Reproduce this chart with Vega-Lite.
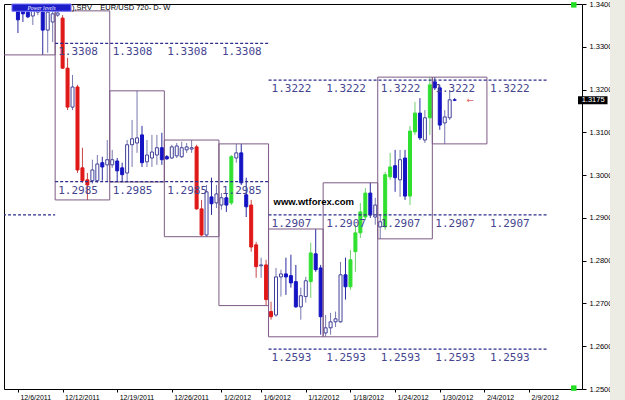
{
  "$schema": "https://vega.github.io/schema/vega-lite/v6.json",
  "width": 578,
  "height": 385,
  "autosize": "none",
  "padding": {"left": 4, "top": 4, "right": 43, "bottom": 11},
  "background": "white",
  "config": {"view": {"stroke": "black", "strokeWidth": 1}},
  "datasets": {
    "candles": [
      {"i":0,"o":1.3386,"c":1.3363,"h":1.3400,"l":1.3332,"k":"bear"},
      {"i":1,"o":1.3391,"c":1.3377,"h":1.3400,"l":1.3358,"k":"bear"},
      {"i":2,"o":1.3381,"c":1.3370,"h":1.3395,"l":1.3367,"k":"bear"},
      {"i":3,"o":1.3372,"c":1.3386,"h":1.3398,"l":1.3351,"k":"bull"},
      {"i":4,"o":1.3381,"c":1.3391,"h":1.3400,"l":1.3374,"k":"bull"},
      {"i":5,"o":1.3381,"c":1.3339,"h":1.3391,"l":1.3281,"k":"bear"},
      {"i":6,"o":1.3339,"c":1.3381,"h":1.3391,"l":1.3286,"k":"bull"},
      {"i":7,"o":1.3358,"c":1.3377,"h":1.3386,"l":1.3311,"k":"bull"},
      {"i":8,"o":1.3374,"c":1.3379,"h":1.3384,"l":1.3370,"k":"bull"},
      {"i":9,"o":1.3367,"c":1.3250,"h":1.3374,"l":1.3248,"k":"bear-strong"},
      {"i":10,"o":1.3250,"c":1.3159,"h":1.3274,"l":1.3152,"k":"bear-strong"},
      {"i":11,"o":1.3159,"c":1.3206,"h":1.3234,"l":1.3152,"k":"bull"},
      {"i":12,"o":1.3206,"c":1.3012,"h":1.3211,"l":1.3005,"k":"bear-strong"},
      {"i":13,"o":1.3017,"c":1.2987,"h":1.3064,"l":1.2982,"k":"bear-strong"},
      {"i":14,"o":1.2989,"c":1.2977,"h":1.3005,"l":1.2942,"k":"bear-strong"},
      {"i":15,"o":1.2987,"c":1.3012,"h":1.3036,"l":1.2980,"k":"bull"},
      {"i":16,"o":1.2987,"c":1.3026,"h":1.3047,"l":1.2982,"k":"bull"},
      {"i":17,"o":1.3029,"c":1.3019,"h":1.3043,"l":1.2987,"k":"bear"},
      {"i":18,"o":1.3024,"c":1.3036,"h":1.3082,"l":1.2984,"k":"bull"},
      {"i":19,"o":1.3024,"c":1.3036,"h":1.3059,"l":1.3017,"k":"bull"},
      {"i":20,"o":1.3033,"c":1.3010,"h":1.3040,"l":1.2984,"k":"bear"},
      {"i":21,"o":1.3017,"c":1.3001,"h":1.3029,"l":1.2984,"k":"bear"},
      {"i":22,"o":1.3005,"c":1.3071,"h":1.3082,"l":1.2984,"k":"bull"},
      {"i":23,"o":1.3071,"c":1.3085,"h":1.3129,"l":1.3019,"k":"bull"},
      {"i":24,"o":1.3075,"c":1.3087,"h":1.3197,"l":1.3052,"k":"bull"},
      {"i":25,"o":1.3094,"c":1.3029,"h":1.3115,"l":1.3019,"k":"bear"},
      {"i":26,"o":1.3031,"c":1.3047,"h":1.3082,"l":1.3019,"k":"bull"},
      {"i":27,"o":1.3040,"c":1.3054,"h":1.3094,"l":1.3019,"k":"bull"},
      {"i":28,"o":1.3047,"c":1.3064,"h":1.3094,"l":1.3024,"k":"bull"},
      {"i":29,"o":1.3064,"c":1.3036,"h":1.3099,"l":1.3024,"k":"bear"},
      {"i":30,"o":1.3043,"c":1.3038,"h":1.3047,"l":1.3036,"k":"bear"},
      {"i":31,"o":1.3040,"c":1.3066,"h":1.3071,"l":1.3038,"k":"bull"},
      {"i":32,"o":1.3045,"c":1.3068,"h":1.3075,"l":1.3040,"k":"bull"},
      {"i":33,"o":1.3043,"c":1.3064,"h":1.3078,"l":1.3040,"k":"bull"},
      {"i":34,"o":1.3059,"c":1.3066,"h":1.3075,"l":1.3052,"k":"bull"},
      {"i":35,"o":1.3061,"c":1.3064,"h":1.3082,"l":1.3052,"k":"bull"},
      {"i":36,"o":1.3066,"c":1.2921,"h":1.3071,"l":1.2919,"k":"bear-strong"},
      {"i":37,"o":1.2921,"c":1.2860,"h":1.2942,"l":1.2858,"k":"bear-strong"},
      {"i":38,"o":1.2860,"c":1.2961,"h":1.2977,"l":1.2856,"k":"bull"},
      {"i":39,"o":1.2949,"c":1.2933,"h":1.2994,"l":1.2907,"k":"bear"},
      {"i":40,"o":1.2935,"c":1.2956,"h":1.2977,"l":1.2923,"k":"bull"},
      {"i":41,"o":1.2930,"c":1.2947,"h":1.2958,"l":1.2919,"k":"bull"},
      {"i":42,"o":1.2947,"c":1.2930,"h":1.2958,"l":1.2914,"k":"bear"},
      {"i":43,"o":1.2935,"c":1.3043,"h":1.3047,"l":1.2930,"k":"bull-strong"},
      {"i":44,"o":1.3040,"c":1.3052,"h":1.3073,"l":1.3029,"k":"bull"},
      {"i":45,"o":1.3052,"c":1.2982,"h":1.3073,"l":1.2977,"k":"bear"},
      {"i":46,"o":1.2954,"c":1.2926,"h":1.2994,"l":1.2902,"k":"bear"},
      {"i":47,"o":1.2930,"c":1.2832,"h":1.2942,"l":1.2821,"k":"bear-strong"},
      {"i":48,"o":1.2837,"c":1.2786,"h":1.2844,"l":1.2760,"k":"bear-strong"},
      {"i":49,"o":1.2788,"c":1.2790,"h":1.2807,"l":1.2760,"k":"bull"},
      {"i":50,"o":1.2790,"c":1.2709,"h":1.2802,"l":1.2695,"k":"bear-strong"},
      {"i":51,"o":1.2681,"c":1.2669,"h":1.2704,"l":1.2662,"k":"bear-strong"},
      {"i":52,"o":1.2673,"c":1.2762,"h":1.2783,"l":1.2669,"k":"bull"},
      {"i":53,"o":1.2762,"c":1.2769,"h":1.2779,"l":1.2716,"k":"bull"},
      {"i":54,"o":1.2769,"c":1.2762,"h":1.2807,"l":1.2720,"k":"bear"},
      {"i":55,"o":1.2765,"c":1.2748,"h":1.2814,"l":1.2737,"k":"bear"},
      {"i":56,"o":1.2751,"c":1.2692,"h":1.2790,"l":1.2690,"k":"bear"},
      {"i":57,"o":1.2692,"c":1.2718,"h":1.2737,"l":1.2662,"k":"bull"},
      {"i":58,"o":1.2716,"c":1.2753,"h":1.2762,"l":1.2702,"k":"bull"},
      {"i":59,"o":1.2751,"c":1.2818,"h":1.2842,"l":1.2713,"k":"bull-strong"},
      {"i":60,"o":1.2816,"c":1.2779,"h":1.2874,"l":1.2774,"k":"bear"},
      {"i":61,"o":1.2783,"c":1.2669,"h":1.2790,"l":1.2627,"k":"bear"},
      {"i":62,"o":1.2631,"c":1.2643,"h":1.2673,"l":1.2622,"k":"bull"},
      {"i":63,"o":1.2643,"c":1.2657,"h":1.2678,"l":1.2627,"k":"bull"},
      {"i":64,"o":1.2657,"c":1.2664,"h":1.2681,"l":1.2645,"k":"bull"},
      {"i":65,"o":1.2657,"c":1.2767,"h":1.2797,"l":1.2655,"k":"bull"},
      {"i":66,"o":1.2767,"c":1.2739,"h":1.2807,"l":1.2709,"k":"bear"},
      {"i":67,"o":1.2739,"c":1.2802,"h":1.2825,"l":1.2732,"k":"bull-strong"},
      {"i":68,"o":1.2821,"c":1.2865,"h":1.2884,"l":1.2774,"k":"bull-strong"},
      {"i":69,"o":1.2865,"c":1.2914,"h":1.2935,"l":1.2853,"k":"bull-strong"},
      {"i":70,"o":1.2902,"c":1.2958,"h":1.2970,"l":1.2895,"k":"bull-strong"},
      {"i":71,"o":1.2958,"c":1.2907,"h":1.2982,"l":1.2900,"k":"bear"},
      {"i":72,"o":1.2902,"c":1.2930,"h":1.2947,"l":1.2884,"k":"bull"},
      {"i":73,"o":1.2879,"c":1.2891,"h":1.2907,"l":1.2851,"k":"bull"},
      {"i":74,"o":1.2879,"c":1.3001,"h":1.3008,"l":1.2872,"k":"bull-strong"},
      {"i":75,"o":1.2996,"c":1.3019,"h":1.3052,"l":1.2989,"k":"bull-strong"},
      {"i":76,"o":1.3022,"c":1.2994,"h":1.3059,"l":1.2961,"k":"bear"},
      {"i":77,"o":1.2989,"c":1.3036,"h":1.3059,"l":1.2949,"k":"bull"},
      {"i":78,"o":1.3040,"c":1.2951,"h":1.3059,"l":1.2942,"k":"bear"},
      {"i":79,"o":1.2951,"c":1.3103,"h":1.3115,"l":1.2930,"k":"bull-strong"},
      {"i":80,"o":1.3101,"c":1.3145,"h":1.3171,"l":1.3094,"k":"bull-strong"},
      {"i":81,"o":1.3145,"c":1.3087,"h":1.3180,"l":1.3082,"k":"bear"},
      {"i":82,"o":1.3082,"c":1.3134,"h":1.3152,"l":1.3075,"k":"bull"},
      {"i":83,"o":1.3134,"c":1.3211,"h":1.3229,"l":1.3094,"k":"bull-strong"},
      {"i":84,"o":1.3218,"c":1.3204,"h":1.3229,"l":1.3199,"k":"bear"},
      {"i":85,"o":1.3204,"c":1.3117,"h":1.3211,"l":1.3106,"k":"bear"},
      {"i":86,"o":1.3122,"c":1.3136,"h":1.3152,"l":1.3073,"k":"bull"},
      {"i":87,"o":1.3134,"c":1.3176,"h":1.3199,"l":1.3129,"k":"bull"},
      {"i":88,"o":1.3176,"c":1.3175,"h":1.3180,"l":1.3173,"k":"bear"}
    ],
    "boxes": [
      {"a":-3,"b":7.5,"top":1.3450,"bottom":1.3281},
      {"a":7.5,"b":18.5,"top":1.3384,"bottom":1.2942},
      {"a":18.5,"b":29.5,"top":1.3197,"bottom":1.2984},
      {"a":29.5,"b":40.5,"top":1.3082,"bottom":1.2856},
      {"a":40.5,"b":50.5,"top":1.3073,"bottom":1.2695},
      {"a":50.5,"b":61.5,"top":1.2874,"bottom":1.2622},
      {"a":61.5,"b":72.5,"top":1.2982,"bottom":1.2622},
      {"a":72.5,"b":83.5,"top":1.3229,"bottom":1.2851},
      {"a":83.5,"b":94.5,"top":1.3229,"bottom":1.3073}
    ],
    "levels": [
      {"a":-3,"b":7.5,"level":1.2907},
      {"a":7.5,"b":50.5,"level":1.3308},
      {"a":7.5,"b":50.5,"level":1.2985},
      {"a":50.5,"b":106.7,"level":1.3222},
      {"a":50.5,"b":106.7,"level":1.2907},
      {"a":50.5,"b":106.7,"level":1.2593}
    ],
    "levelLabels": [
      {"at":7.5,"level":1.3308},{"at":18.5,"level":1.3308},{"at":29.5,"level":1.3308},{"at":40.5,"level":1.3308},
      {"at":7.5,"level":1.2985},{"at":18.5,"level":1.2985},{"at":29.5,"level":1.2985},{"at":40.5,"level":1.2985},
      {"at":50.5,"level":1.3222},{"at":61.5,"level":1.3222},{"at":72.5,"level":1.3222},{"at":83.5,"level":1.3222},{"at":94.5,"level":1.3222},
      {"at":50.5,"level":1.2907},{"at":61.5,"level":1.2907},{"at":72.5,"level":1.2907},{"at":83.5,"level":1.2907},{"at":94.5,"level":1.2907},
      {"at":50.5,"level":1.2593},{"at":61.5,"level":1.2593},{"at":72.5,"level":1.2593},{"at":83.5,"level":1.2593},{"at":94.5,"level":1.2593}
    ]
  },
  "layer": [
    {
      "data": {"name": "candles"},
      "mark": {"type": "rule", "strokeWidth": 1, "clip": true, "zindex": 3},
      "encoding": {
        "x": {
          "field": "i", "type": "quantitative",
          "scale": {"domain": [-1.8, 112.65], "nice": false, "zero": false},
          "axis": {
            "title": null, "grid": false, "domain": false,
            "values": [0, 9, 20, 31, 41, 49, 58, 67, 76, 85, 94, 103],
            "labelExpr": "datum.value==0?'12/6/2011':datum.value==9?'12/12/2011':datum.value==20?'12/19/2011':datum.value==31?'12/26/2011':datum.value==41?'1/2/2012':datum.value==49?'1/6/2012':datum.value==58?'1/12/2012':datum.value==67?'1/18/2012':datum.value==76?'1/24/2012':datum.value==85?'1/30/2012':datum.value==94?'2/4/2012':'2/9/2012'",
            "tickSize": 3, "tickColor": "black", "labelAlign": "left", "labelOffset": 2, "labelPadding": 1,
            "labelFont": "Liberation Sans", "labelFontSize": 7, "labelColor": "black",
            "labelFlush": false, "labelOverlap": false
          }
        },
        "y": {
          "field": "l", "type": "quantitative",
          "scale": {"domain": [1.25, 1.34], "nice": false, "zero": false},
          "axis": {
            "orient": "right", "title": null, "grid": false, "domain": false,
            "values": [1.25, 1.26, 1.27, 1.28, 1.29, 1.30, 1.31, 1.32, 1.33, 1.34],
            "format": ".4f", "tickSize": 4, "tickColor": "black", "labelPadding": 3,
            "labelFont": "Liberation Sans", "labelFontSize": 7.5, "labelColor": "black",
            "labelOverlap": false, "labelFlush": false
          }
        },
        "y2": {"field": "h"},
        "color": {
          "field": "k", "type": "nominal", "legend": null,
          "scale": {"domain": ["bear-strong", "bear", "bull", "bull-strong"], "range": ["#c84848", "#2a2aa0", "#7878b0", "#70d070"]}
        }
      }
    },
    {
      "data": {"name": "candles"},
      "mark": {"type": "bar", "size": 3, "strokeWidth": 1, "clip": true, "zindex": 4},
      "encoding": {
        "x": {"field": "i", "type": "quantitative", "scale": {"domain": [-1.8, 112.65], "nice": false, "zero": false}, "axis": {"title": null}},
        "y": {"field": "o", "type": "quantitative", "scale": {"domain": [1.25, 1.34], "nice": false, "zero": false}, "axis": {"title": null}},
        "y2": {"field": "c"},
        "fill": {
          "field": "k", "type": "nominal", "legend": null,
          "scale": {"domain": ["bear-strong", "bear", "bull", "bull-strong"], "range": ["#e01818", "#1414c4", "#ffffff", "#30e030"]}
        },
        "stroke": {
          "field": "k", "type": "nominal", "legend": null,
          "scale": {"domain": ["bear-strong", "bear", "bull", "bull-strong"], "range": ["#e01818", "#1414c4", "#40409a", "#30e030"]}
        }
      }
    },
    {
      "data": {"name": "boxes"},
      "mark": {"type": "rect", "fillOpacity": 0, "stroke": "#7d5a85", "strokeWidth": 1, "clip": true, "zindex": 0},
      "encoding": {
        "x": {"field": "a", "type": "quantitative", "scale": {"domain": [-1.8, 112.65], "nice": false, "zero": false}, "axis": {"title": null}},
        "x2": {"field": "b"},
        "y": {"field": "top", "type": "quantitative", "scale": {"domain": [1.25, 1.34], "nice": false, "zero": false}, "axis": {"title": null}},
        "y2": {"field": "bottom"}
      }
    },
    {
      "data": {"name": "levels"},
      "mark": {"type": "rule", "color": "#2c2c8c", "strokeWidth": 1.3, "strokeDash": [3, 2], "clip": true, "zindex": 1},
      "encoding": {
        "x": {"field": "a", "type": "quantitative", "scale": {"domain": [-1.8, 112.65], "nice": false, "zero": false}, "axis": {"title": null}},
        "x2": {"field": "b"},
        "y": {"field": "level", "type": "quantitative", "scale": {"domain": [1.25, 1.34], "nice": false, "zero": false}, "axis": {"title": null}}
      }
    },
    {
      "data": {"name": "levelLabels"},
      "mark": {"type": "text", "align": "left", "baseline": "middle", "dx": 3, "dy": 9, "font": "DejaVu Sans Mono", "fontSize": 11, "color": "#45458f", "clip": true, "zindex": 2},
      "encoding": {
        "x": {"field": "at", "type": "quantitative", "scale": {"domain": [-1.8, 112.65], "nice": false, "zero": false}, "axis": {"title": null}},
        "y": {"field": "level", "type": "quantitative", "scale": {"domain": [1.25, 1.34], "nice": false, "zero": false}, "axis": {"title": null}},
        "text": {"field": "level", "type": "quantitative", "format": ".4f"}
      }
    },
    {
      "data": {"values": [{"i": 59.6, "p": 1.2937, "t": "www.wtforex.com"}]},
      "mark": {"type": "text", "font": "Liberation Sans", "fontWeight": "bold", "fontSize": 9.5, "color": "black", "align": "center", "baseline": "middle", "zindex": 5},
      "encoding": {
        "x": {"field": "i", "type": "quantitative", "scale": {"domain": [-1.8, 112.65], "nice": false, "zero": false}, "axis": {"title": null}},
        "y": {"field": "p", "type": "quantitative", "scale": {"domain": [1.25, 1.34], "nice": false, "zero": false}, "axis": {"title": null}},
        "text": {"field": "t"}
      }
    },
    {
      "data": {"values": [{"i": 90.4, "p": 1.3175, "t": "←"}]},
      "mark": {"type": "text", "font": "DejaVu Sans", "fontSize": 9, "color": "#e06060", "align": "left", "baseline": "middle", "zindex": 5},
      "encoding": {
        "x": {"field": "i", "type": "quantitative", "scale": {"domain": [-1.8, 112.65], "nice": false, "zero": false}, "axis": {"title": null}},
        "y": {"field": "p", "type": "quantitative", "scale": {"domain": [1.25, 1.34], "nice": false, "zero": false}, "axis": {"title": null}},
        "text": {"field": "t"}
      }
    },
    {
      "data": {"values": [{"a": -1.2, "b": 10.7, "top": 1.3400, "bottom": 1.3383}]},
      "mark": {"type": "rect", "fill": "#1c1cc8", "stroke": "#7a7aff", "strokeWidth": 1, "zindex": 6},
      "encoding": {
        "x": {"field": "a", "type": "quantitative", "scale": {"domain": [-1.8, 112.65], "nice": false, "zero": false}, "axis": {"title": null}},
        "x2": {"field": "b"},
        "y": {"field": "top", "type": "quantitative", "scale": {"domain": [1.25, 1.34], "nice": false, "zero": false}, "axis": {"title": null}},
        "y2": {"field": "bottom"}
      }
    },
    {
      "data": {"values": [{"i": 4.75, "p": 1.33915, "t": "Power levels"}]},
      "mark": {"type": "text", "font": "Liberation Serif", "fontStyle": "italic", "fontSize": 5.5, "color": "white", "align": "center", "baseline": "middle", "zindex": 7},
      "encoding": {
        "x": {"field": "i", "type": "quantitative", "scale": {"domain": [-1.8, 112.65], "nice": false, "zero": false}, "axis": {"title": null}},
        "y": {"field": "p", "type": "quantitative", "scale": {"domain": [1.25, 1.34], "nice": false, "zero": false}, "axis": {"title": null}},
        "text": {"field": "t"}
      }
    },
    {
      "data": {"values": [{"i": 10.9, "p": 1.3390, "t": "),SRV"}, {"i": 16.6, "p": 1.3390, "t": "EUR/USD 720- D- W"}]},
      "mark": {"type": "text", "font": "Liberation Sans", "fontSize": 7.5, "color": "black", "align": "left", "baseline": "middle", "zindex": 7},
      "encoding": {
        "x": {"field": "i", "type": "quantitative", "scale": {"domain": [-1.8, 112.65], "nice": false, "zero": false}, "axis": {"title": null}},
        "y": {"field": "p", "type": "quantitative", "scale": {"domain": [1.25, 1.34], "nice": false, "zero": false}, "axis": {"title": null}},
        "text": {"field": "t"}
      }
    },
    {
      "data": {"values": [{"p": 1.3398, "t": "hi"}, {"p": 1.2502, "t": "lo"}]},
      "mark": {"type": "square", "color": "#22dd22", "opacity": 1, "size": 30, "clip": false, "zindex": 8},
      "encoding": {
        "x": {"datum": 112, "type": "quantitative", "scale": {"domain": [-1.8, 112.65], "nice": false, "zero": false}, "axis": {"title": null}},
        "y": {"field": "p", "type": "quantitative", "scale": {"domain": [1.25, 1.34], "nice": false, "zero": false}, "axis": {"title": null}}
      }
    },
    {
      "data": {"values": [{"p": 1.3175, "t": "1.3175"}]},
      "mark": {"type": "rule", "color": "black", "strokeWidth": 8, "clip": false, "zindex": 8},
      "encoding": {
        "x": {"datum": 112.85, "type": "quantitative", "scale": {"domain": [-1.8, 112.65], "nice": false, "zero": false}, "axis": {"title": null}},
        "x2": {"datum": 118.8},
        "y": {"field": "p", "type": "quantitative", "scale": {"domain": [1.25, 1.34], "nice": false, "zero": false}, "axis": {"title": null}}
      }
    },
    {
      "data": {"values": [{"p": 1.3175, "t": "1.3175"}]},
      "mark": {"type": "text", "font": "Liberation Sans", "fontSize": 7.5, "color": "white", "align": "center", "baseline": "middle", "clip": false, "zindex": 9},
      "encoding": {
        "x": {"datum": 115.9, "type": "quantitative", "scale": {"domain": [-1.8, 112.65], "nice": false, "zero": false}, "axis": {"title": null}},
        "y": {"field": "p", "type": "quantitative", "scale": {"domain": [1.25, 1.34], "nice": false, "zero": false}, "axis": {"title": null}},
        "text": {"field": "t"}
      }
    },
    {
      "data": {"values": [{"t": "toolbar", "top": 1.36, "bottom": 1.23}]},
      "mark": {"type": "rect", "color": "#ecebe4", "clip": false, "zindex": 0},
      "encoding": {
        "x": {"datum": 119.3, "type": "quantitative", "scale": {"domain": [-1.8, 112.65], "nice": false, "zero": false}, "axis": {"title": null}},
        "x2": {"datum": 126},
        "y": {"field": "top", "type": "quantitative", "scale": {"domain": [1.25, 1.34], "nice": false, "zero": false}, "axis": {"title": null}},
        "y2": {"field": "bottom"}
      }
    }
  ]
}
